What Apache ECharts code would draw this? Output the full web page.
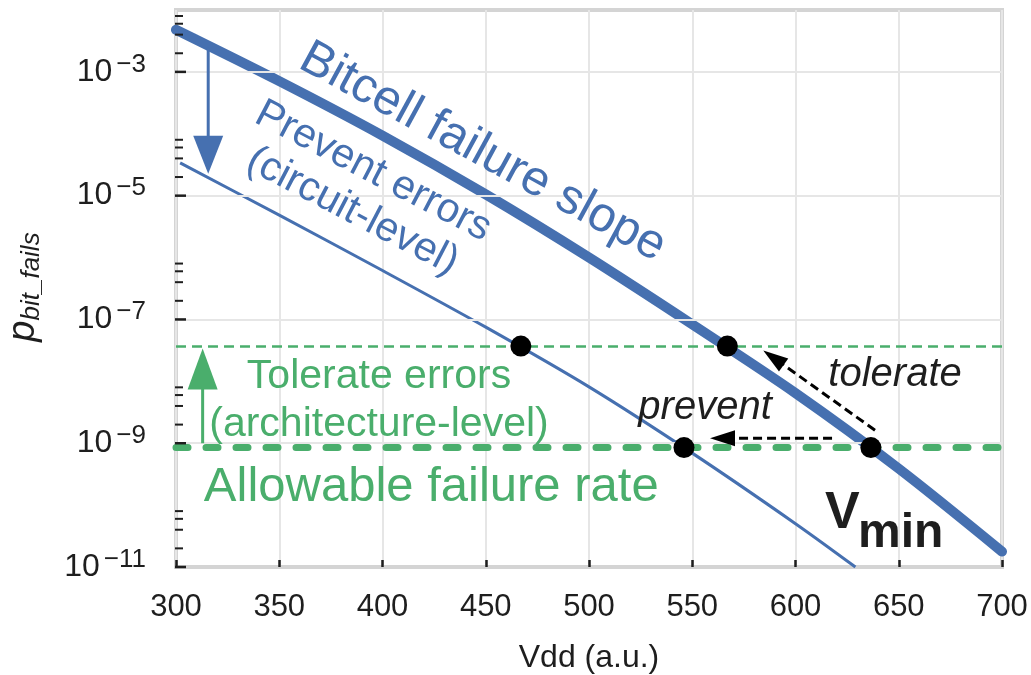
<!DOCTYPE html>
<html><head><meta charset="utf-8">
<script src="https://cdn.jsdelivr.net/npm/echarts@6/dist/echarts.min.js"></script>
<style>html,body{margin:0;padding:0;background:#fff}#c{width:1031px;height:675px}</style>
</head><body><div id="c"></div>
<script>
// ---------------- data ----------------
const vddTicks = [300, 350, 400, 450, 500, 550, 600, 650, 700];
// Bitcell failure slope: log10(p_bit_fails) vs Vdd
const bitcellVdd  = [300, 350, 400, 450, 500, 550, 600, 650, 700];
const bitcellLogP = [-2.32, -3.15, -4.03, -4.98, -6.00, -7.08, -8.19, -9.41, -10.75];
// Prevent errors (circuit-level) curve
const preventVdd  = [302, 350, 400, 450, 500, 550, 600, 629];
const preventLogP = [-4.47, -5.315, -6.21, -7.125, -8.09, -9.16, -10.30, -11];
// horizontal levels
const allowableLogP = -9.07;
const tolerateLogP  = -7.43;
// marked intersection points
const crossVdd  = [467, 567, 546, 636.5];
const crossLogP = [-7.43, -7.43, -9.07, -9.07];
// y-axis labelled decades and minor-tick multiples
const yMajorExp = [-11, -9, -7, -5, -3];
const yMinorMult = [2, 4, 6, 8];
// arrows [fromVdd, fromLogP, toVdd, toLogP]
const arrowPreventCircuit = [315.6, -2.60, 315.6, -4.645];
const arrowTolerateArch   = [312.9, -9.00, 312.9, -7.47];
const arrowPrevent        = [617.7, -8.92, 558.6, -8.92];
const arrowTolerate       = [638.5, -8.79, 584.4, -7.50];

// ---------------- styling ----------------
const FONT = '"Liberation Sans", Arial, Helvetica, sans-serif';
const BLUE = '#4670b0';
const GREEN = '#4aae6c';
const INK = '#1e1e1e';

const chart = echarts.init(document.getElementById('c'), null, {renderer: 'canvas'});

function zip(a, b) { return a.map((v, i) => [v, b[i]]); }

function arrowSeries(name, seg, color, width, dash, headLen, headW) {
  return {
    type: 'custom', name, silent: true, z: 6,
    data: [seg],
    encode: {x: [0, 2], y: [1, 3]},
    renderItem: (params, api) => {
      const p1 = api.coord([api.value(0), api.value(1)]);
      const p2 = api.coord([api.value(2), api.value(3)]);
      const dx = p2[0] - p1[0], dy = p2[1] - p1[1];
      const L = Math.hypot(dx, dy), ux = dx / L, uy = dy / L;
      const bx = p2[0] - ux * headLen, by = p2[1] - uy * headLen;
      const nx = -uy, ny = ux;
      return {
        type: 'group', children: [
          {type: 'line', shape: {x1: p1[0], y1: p1[1], x2: bx + ux * 2, y2: by + uy * 2},
           style: {stroke: color, lineWidth: width, lineDash: dash}},
          {type: 'polygon', shape: {points: [[p2[0], p2[1]],
             [bx + nx * headW / 2, by + ny * headW / 2], [bx - nx * headW / 2, by - ny * headW / 2]]},
           style: {fill: color}}
        ]
      };
    }
  };
}

// y tick marks (major at labelled decades, minor at 2,4,6,8 x decade)
const yTickData = [];
yMajorExp.forEach(e => {
  yTickData.push([e, 1]);
  yMinorMult.forEach(m => yTickData.push([e + Math.log10(m), 0]));
});

const option = {
  animation: false,
  backgroundColor: '#fff',
  grid: {left: 176, right: 29, top: 10, bottom: 108, show: true, outerBoundsMode: 'none',
         containLabel: false,
         borderColor: '#d4d4d4', borderWidth: 4, backgroundColor: 'transparent'},
  xAxis: {
    type: 'value', min: 300, max: 700, interval: 50,
    name: 'Vdd (a.u.)', nameLocation: 'middle', nameGap: 75,
    nameTextStyle: {fontSize: 32, color: INK, fontFamily: FONT},
    axisLine: {show: false},
    axisTick: {show: true, inside: true, length: 7, lineStyle: {color: INK, width: 2.5}},
    axisLabel: {fontSize: 31, color: INK, fontFamily: FONT, margin: 25},
    splitLine: {show: true, lineStyle: {color: '#e6e6e6', width: 2}}
  },
  yAxis: {
    type: 'value', min: -11, max: -2, interval: 1,
    axisLine: {show: false}, axisTick: {show: false}, splitLine: {show: false},
    axisLabel: {
      margin: 30,
      formatter: v => (Math.abs(v) % 2 === 1) ? '{b|10}{s|\u2212' + (-v) + '}' : '',
      rich: {
        b: {fontSize: 32, color: INK, fontFamily: FONT},
        s: {fontSize: 26, color: INK, fontFamily: FONT, padding: [0, 0, 15, 4]}
      }
    }
  },
  series: [
    { // horizontal grid lines at labelled decades
      type: 'line', data: [], silent: true, z: 1,
      markLine: {silent: true, symbol: 'none', label: {show: false},
        lineStyle: {color: '#e6e6e6', width: 2, type: 'solid'},
        data: yMajorExp.slice(1).map(e => ({yAxis: e}))}
    },
    {
      type: 'custom', name: 'yTicks', silent: true, z: 7,
      data: yTickData,
      encode: {y: 0},
      renderItem: (params, api) => {
        const p = api.coord([vddTicks[0], api.value(0)]);
        const len = api.value(1) ? 10 : 7;
        return {type: 'line', shape: {x1: p[0] - 1, y1: p[1], x2: p[0] + len, y2: p[1]},
                style: {stroke: INK, lineWidth: api.value(1) ? 2.5 : 2}};
      }
    },
    { // tolerate level
      type: 'line', data: [], silent: true, z: 2,
      markLine: {silent: true, symbol: 'none', label: {show: false},
        lineStyle: {color: GREEN, width: 2.6, type: [10, 6]},
        data: [{yAxis: tolerateLogP}]}
    },
    { // allowable failure rate
      type: 'line', data: [], silent: true, z: 2,
      markLine: {silent: true, symbol: 'none', label: {show: false},
        lineStyle: {color: GREEN, width: 7, type: [12, 18], cap: 'round'},
        data: [{yAxis: allowableLogP}]}
    },
    {
      type: 'line', name: 'Bitcell failure slope', data: zip(bitcellVdd, bitcellLogP),
      showSymbol: false, smooth: 0.3, z: 3,
      lineStyle: {color: BLUE, width: 10, cap: 'round'}
    },
    {
      type: 'line', name: 'Prevent errors', data: zip(preventVdd, preventLogP),
      showSymbol: false, smooth: 0.3, z: 3,
      lineStyle: {color: BLUE, width: 3}
    },
    arrowSeries('arrowCircuit', arrowPreventCircuit, BLUE, 3, null, 38, 30),
    arrowSeries('arrowArch', arrowTolerateArch, GREEN, 3, null, 41, 30),
    arrowSeries('arrowPrevent', arrowPrevent, '#000', 3, [9, 5], 25, 16),
    arrowSeries('arrowTolerate', arrowTolerate, '#000', 3, [9, 5], 25, 16),
    {
      type: 'scatter', data: zip(crossVdd, crossLogP), symbol: 'circle', symbolSize: 21,
      itemStyle: {color: '#000', opacity: 1}, z: 8, silent: true
    }
  ]
};
chart.setOption(option);

// ---------------- text annotations (anchored in data space) ----------------
const px = (x, y) => chart.convertToPixel({xAxisIndex: 0, yAxisIndex: 0}, [x, y]);
const deg = d => d * Math.PI / 180;
function label(text, at, opts) {
  const p = px(at[0], at[1]);
  return {
    type: 'text', x: p[0], y: p[1], rotation: opts.rot ? -deg(opts.rot) : 0, z: 20, silent: true,
    style: Object.assign({text, fill: opts.color, fontFamily: FONT, fontSize: opts.size,
      fontStyle: opts.italic ? 'italic' : 'normal', fontWeight: opts.bold ? 'bold' : 'normal',
      align: opts.align || 'center', verticalAlign: 'middle', lineHeight: opts.lh || opts.size * 1.15},
      opts.extra || {})
  };
}
const graphics = [
  label('Bitcell failure slope', [448.5, -4.30], {rot: 28.5, size: 49, color: BLUE}),
  label('Prevent errors\n(circuit-level)', [390.5, -4.93], {rot: 27.5, size: 41, color: BLUE, lh: 45}),
  label('Tolerate errors\n(architecture-level)', [398.3, -8.31], {size: 41, color: GREEN, lh: 48}),
  label('Allowable failure rate', [423.6, -9.72], {size: 49, color: GREEN}),
  label('prevent', [556.2, -8.436], {size: 40, color: INK, italic: true}),
  label('tolerate', [648.2, -7.903], {size: 40, color: INK, italic: true}),
  label('V', [614.3, -10.14], {size: 52, color: INK, bold: true, align: 'left'}),
  label('min', [630.3, -10.47], {size: 48, color: INK, bold: true, align: 'left'}),
  { // y-axis title p_{bit_fails}
    type: 'text', x: 23, y: 287, rotation: Math.PI / 2, z: 20, silent: true,
    style: {text: '{p|p}{s|bit_fails}', align: 'center', verticalAlign: 'middle',
      rich: {
        p: {fontSize: 38, fontStyle: 'italic', fill: INK, fontFamily: FONT},
        s: {fontSize: 26, fontStyle: 'italic', fill: INK, fontFamily: FONT, padding: [18, 0, 0, 0]}
      }}
  }
];
chart.setOption({graphic: graphics});
</script></body></html>
